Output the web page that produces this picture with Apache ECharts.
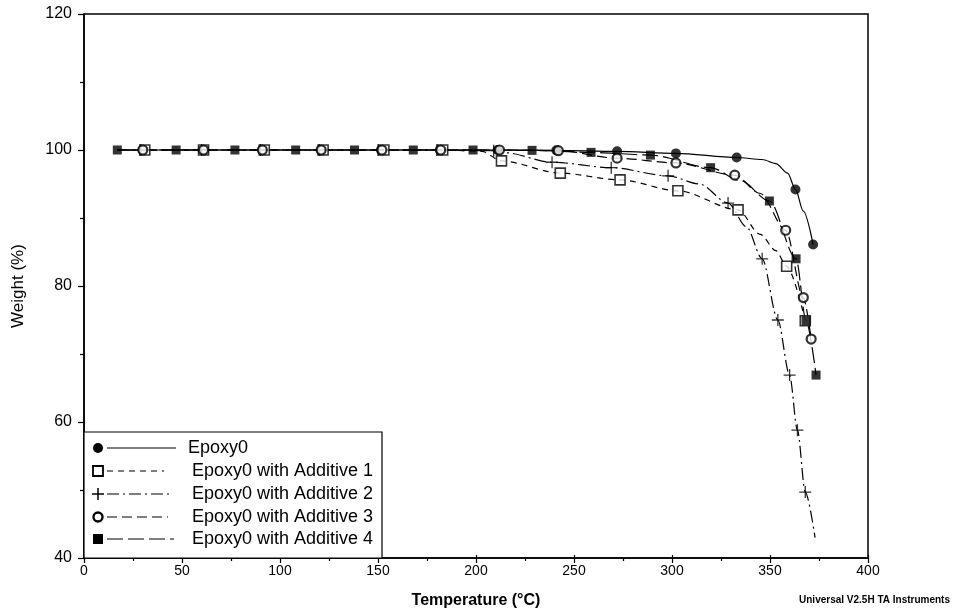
<!DOCTYPE html>
<html>
<head>
<meta charset="utf-8">
<script src="https://cdn.jsdelivr.net/npm/echarts@6/dist/echarts.min.js"></script>
<style>
  html, body { margin: 0; padding: 0; background: #fff; }
  #chart { width: 953px; height: 611px; }
</style>
</head>
<body>
<div id="chart"></div>
<script>
// Series names
const seriesNames = [
  'Epoxy0',
  'Epoxy0 with Additive 1',
  'Epoxy0 with Additive 2',
  'Epoxy0 with Additive 3',
  'Epoxy0 with Additive 4'
];

// Marked data points [temperature °C, weight %]
const epoxy0Marks = [[30,100],[60.5,100],[91,100],[121,100],[151.5,100],[181.5,100],[211,100],[241,99.95],[272,99.8],[302,99.5],[333,98.9],[363,94.2],[372,86.1]];
const add1Marks = [[31,100],[61,100],[92,100],[122,100],[153,100],[183,100],[213,98.4],[243,96.6],[273.5,95.6],[303,94],[333.7,91.2],[358.5,82.9],[368,74.9]];
const add2Marks = [[29,100],[60,100],[90,100],[120,100],[150,100],[180,100],[209,99.9],[238.8,98.2],[269,97.4],[298,96.2],[328.6,92.2],[346,84],[354,75],[360,66.9],[364,58.8],[368,49.7]];
const add3Marks = [[30,100],[61,100],[91,100],[121,100],[152,100],[182,100],[212,100],[242,99.9],[272,98.8],[302,98.1],[332,96.3],[358,88.2],[367,78.3],[371,72.2]];
const add4Marks = [[17,100],[47,100],[77,100],[108,100],[138,100],[168,100],[198.5,100],[228.6,99.95],[258.7,99.65],[289,99.25],[319.7,97.4],[349.7,92.5],[363.3,84],[368.4,74.9],[373.5,66.9]];

// Additional unmarked readings along each trace
const epoxy0Extra = [[17,100],[346,98.6],[353,98.0],[359,96.6],[367,91.0]];
const add1Extra = [[17,100],[203,99.8],[345,87.6],[353,85.2]];
const add2Extra = [[17,100],[214.8,99.6],[314,95.0],[338,88.7],[373,43]];
const add3Extra = [[17,100],[345,93.6]];
const add4Extra = [[335,95.5]];

// Axis ranges
const xMin = 0, xMax = 400, xStep = 50;
const yMin = 40, yMax = 120, yStep = 20;

const marks = [epoxy0Marks, add1Marks, add2Marks, add3Marks, add4Marks];
const extras = [epoxy0Extra, add1Extra, add2Extra, add3Extra, add4Extra];

const plusPath = 'path://M5,0 L6.2,0 L6.2,5 L11.2,5 L11.2,6.2 L6.2,6.2 L6.2,11.2 L5,11.2 L5,6.2 L0,6.2 L0,5 L5,5 Z';

const lineDashes = ['solid', [6, 5], [12, 4, 2, 4], [10, 5], [16, 5]];
const symbolStyles = [
  { symbol: 'circle', size: 10, itemStyle: { color: '#000' } },
  { symbol: 'rect', size: 10, itemStyle: { color: '#fff', borderColor: '#000', borderWidth: 1.6 } },
  { symbol: plusPath, size: 12, itemStyle: { color: '#000' } },
  { symbol: 'circle', size: 9, itemStyle: { color: '#fff', borderColor: '#000', borderWidth: 2.2 } },
  { symbol: 'rect', size: 9, itemStyle: { color: '#000' } }
];

function merged(a, b) {
  return a.concat(b).sort((p, q) => p[0] - q[0]);
}

const series = [];
seriesNames.forEach((name, i) => {
  series.push({
    name: name,
    type: 'line',
    data: merged(marks[i], extras[i]),
    smooth: 0.3,
    smoothMonotone: 'x',
    symbol: 'none',
    lineStyle: { color: '#000', width: 1.2, type: lineDashes[i] },
    z: 2,
    silent: true
  });
  series.push({
    name: name,
    type: 'scatter',
    data: marks[i],
    symbol: symbolStyles[i].symbol,
    symbolSize: symbolStyles[i].size,
    itemStyle: symbolStyles[i].itemStyle,
    z: 3,
    silent: true
  });
});

// Legend box drawn in the lower-left corner of the plot
const legendGraphics = [];
const legX = 84, legY = 432, legW = 298, legH = 126;
legendGraphics.push({
  type: 'rect', shape: { x: legX, y: legY, width: legW, height: legH },
  style: { fill: '#fff', stroke: '#000', lineWidth: 1.2 }, z: 10
});
const rowY = [448, 471, 494, 517, 539];
const textX = [188, 192, 192, 192, 192];
const sampleEnd = [176, 164, 170, 168, 174];
seriesNames.forEach((name, i) => {
  const y = rowY[i];
  const sx = 98;
  if (i === 0) {
    legendGraphics.push({ type: 'circle', shape: { cx: sx, cy: y, r: 5 }, style: { fill: '#000' }, z: 11 });
  } else if (i === 1) {
    legendGraphics.push({ type: 'rect', shape: { x: sx - 5, y: y - 5, width: 10, height: 10 }, style: { fill: '#fff', stroke: '#000', lineWidth: 1.8 }, z: 11 });
  } else if (i === 2) {
    legendGraphics.push({ type: 'line', shape: { x1: sx - 6, y1: y, x2: sx + 6, y2: y }, style: { stroke: '#000', lineWidth: 1.5 }, z: 11 });
    legendGraphics.push({ type: 'line', shape: { x1: sx, y1: y - 6, x2: sx, y2: y + 6 }, style: { stroke: '#000', lineWidth: 1.5 }, z: 11 });
  } else if (i === 3) {
    legendGraphics.push({ type: 'circle', shape: { cx: sx, cy: y, r: 4.5 }, style: { fill: '#fff', stroke: '#000', lineWidth: 2.4 }, z: 11 });
  } else {
    legendGraphics.push({ type: 'rect', shape: { x: sx - 5, y: y - 5, width: 10, height: 10 }, style: { fill: '#000' }, z: 11 });
  }
  const dash = lineDashes[i] === 'solid' ? null : lineDashes[i];
  legendGraphics.push({
    type: 'line', shape: { x1: 107, y1: y, x2: sampleEnd[i], y2: y },
    style: { stroke: '#000', lineWidth: 1.2, lineDash: dash }, z: 11
  });
  legendGraphics.push({
    type: 'text', x: textX[i], y: y, z: 11,
    style: { text: name, fill: '#000', font: '18px "Liberation Sans", Arial, sans-serif', textVerticalAlign: 'middle' }
  });
});
legendGraphics.push({
  type: 'text', right: 3, top: 595, z: 11,
  style: { text: 'Universal V2.5H TA Instruments', fill: '#000', font: 'bold 10px "Liberation Sans", Arial, sans-serif' }
});

const font = '"Liberation Sans", Arial, sans-serif';
const chart = echarts.init(document.getElementById('chart'), null, { renderer: 'canvas' });
chart.setOption({
  animation: false,
  backgroundColor: '#fff',
  grid: {
    left: 84, right: 85, top: 14, bottom: 53,
    containLabel: false, outerBoundsMode: 'none',
    show: true, borderColor: '#000', borderWidth: 1.5, backgroundColor: 'transparent'
  },
  xAxis: [
    {
      type: 'value', min: xMin, max: xMax, interval: xStep,
      name: 'Temperature (°C)', nameLocation: 'middle', nameGap: 35,
      nameTextStyle: { fontFamily: font, fontSize: 16, fontWeight: 'bold', color: '#000' },
      axisLine: { show: true, lineStyle: { color: '#000', width: 1.5 } },
      axisTick: { show: true, inside: false, length: 5, lineStyle: { color: '#000', width: 1.2 } },
      minorTick: { show: true, splitNumber: 2, length: 3, lineStyle: { color: '#000', width: 1.2 } },
      axisLabel: { color: '#000', fontFamily: font, fontSize: 14, margin: 6 },
      splitLine: { show: false }
    },
    {
      type: 'value', min: xMin, max: xMax, interval: xStep, position: 'bottom',
      axisLine: { show: false },
      axisTick: { show: true, inside: true, length: 3, lineStyle: { color: '#000', width: 1.2 } },
      axisLabel: { show: false },
      splitLine: { show: false }
    }
  ],
  yAxis: [
    {
      type: 'value', min: yMin, max: yMax, interval: yStep,
      name: 'Weight (%)', nameLocation: 'middle', nameGap: 57, nameRotate: 90,
      nameTextStyle: { fontFamily: font, fontSize: 17, color: '#000' },
      axisLine: { show: true, lineStyle: { color: '#000', width: 1.5 } },
      axisTick: { show: true, inside: false, length: 6, lineStyle: { color: '#000', width: 1.2 } },
      minorTick: { show: true, splitNumber: 2, length: 4, lineStyle: { color: '#000', width: 1.2 } },
      axisLabel: { color: '#000', fontFamily: font, fontSize: 16, margin: 12 },
      splitLine: { show: false }
    }
  ],
  series: series,
  graphic: legendGraphics
});
</script>
</body>
</html>
